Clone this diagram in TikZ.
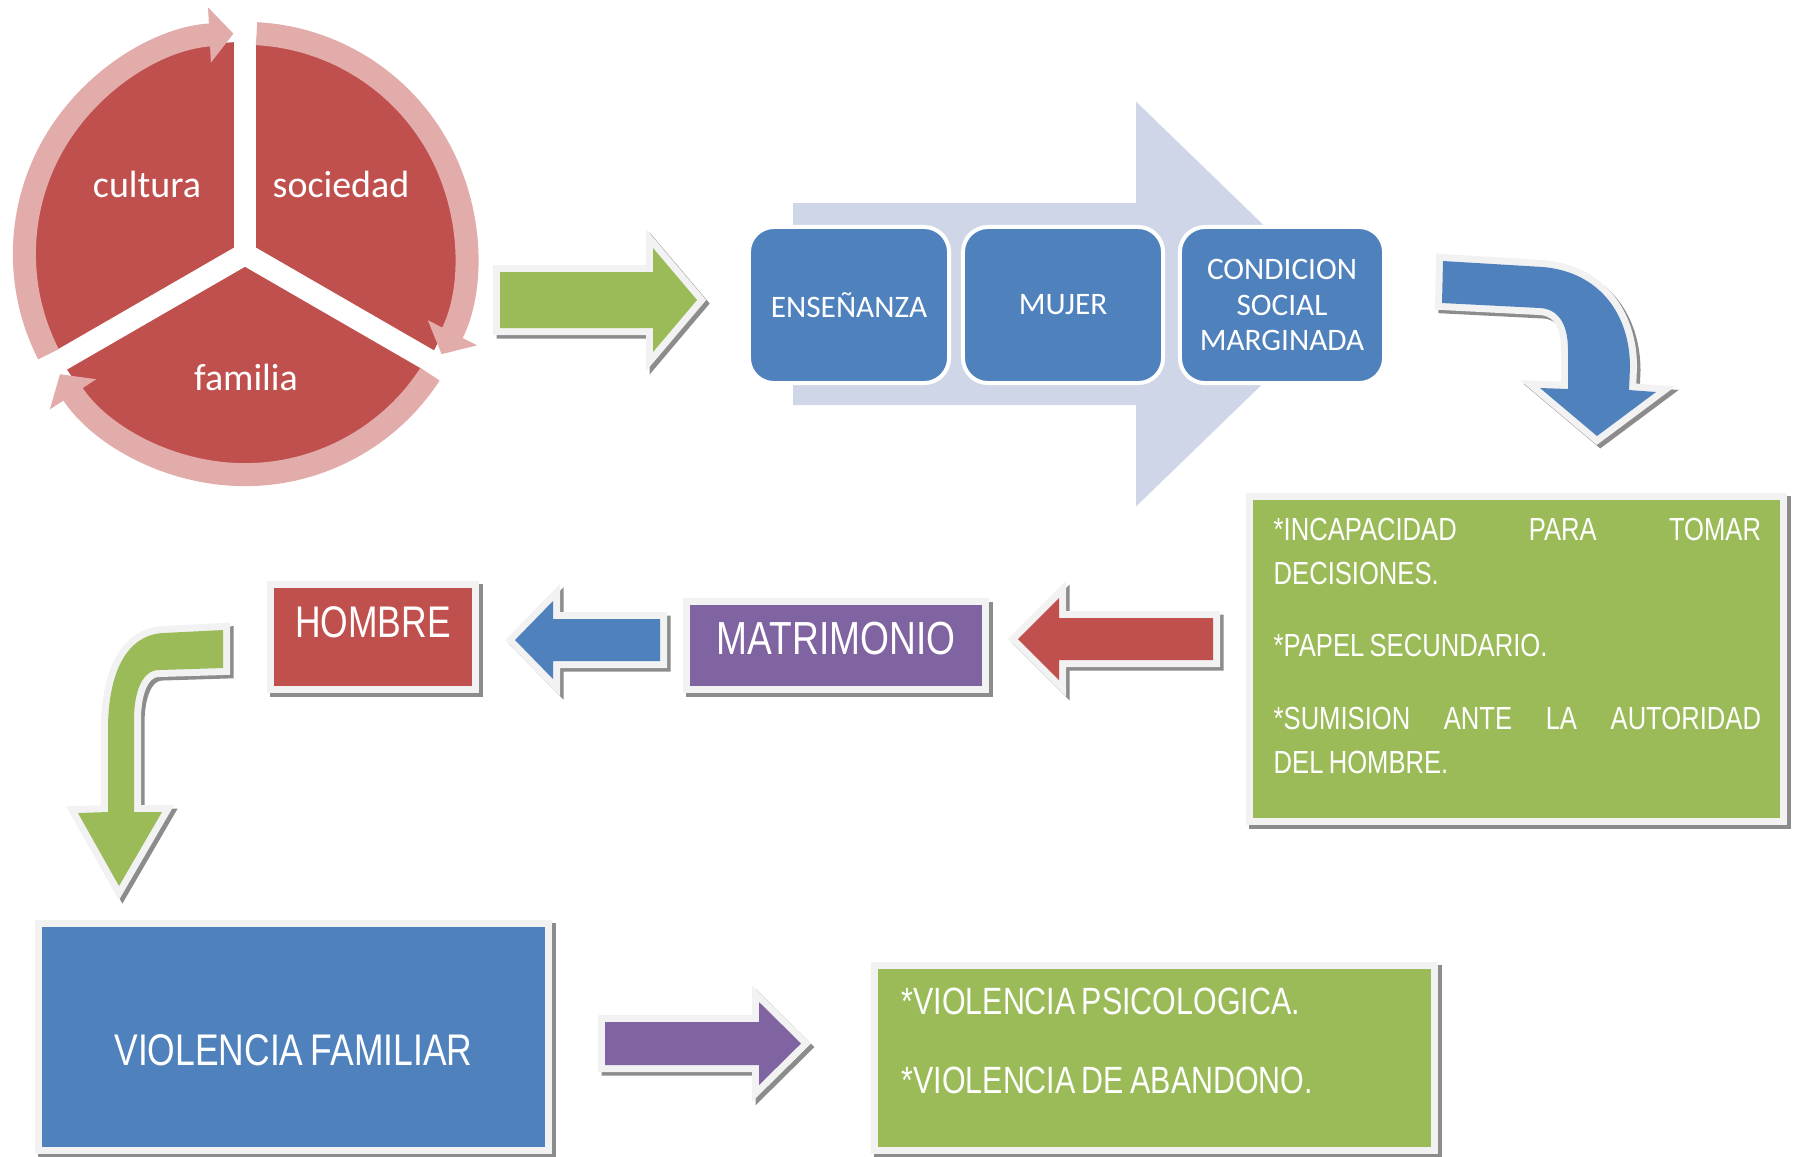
\documentclass[tikz,border=0pt]{standalone}
\usepackage{fontspec}
\setmainfont{Carlito}
\newfontfamily\estrecha[FakeStretch=0.8,WordSpace=0.75]{Liberation Sans}
\usetikzlibrary{arrows.meta}
\definecolor{azul}{HTML}{4F81BD}
\definecolor{rojo}{HTML}{C0504D}
\definecolor{verde}{HTML}{9BBB59}
\definecolor{morado}{HTML}{8064A2}
\definecolor{rosa}{HTML}{E2ACAB}
\definecolor{celeste}{HTML}{CED6E8}
\definecolor{gborde}{HTML}{F2F2F2}
\definecolor{sombra}{HTML}{8C8C8C}
\newcommand{\flechabloque}[7]{%
	\fill[#1] (#2,#5+#6) -- (#3,#5+#6) -- (#3,#5+#7) -- (#4,#5) -- (#3,#5-#7) -- (#3,#5-#6) -- (#2,#5-#6) -- cycle;}
\begin{document}
\begin{tikzpicture}[x=0.01cm,y=0.01cm,
	marco/.style={preaction={draw=sombra,line width=0.14cm,transform canvas={xshift=0.035cm,yshift=-0.035cm}},
		preaction={draw=gborde,line width=0.14cm}},
	caja/.style={marco,rectangle,inner sep=0pt,text=white},
	etapa/.style={rectangle,rounded corners=0.25cm,fill=azul,draw=white,line width=0.04cm,
		minimum width=2cm,minimum height=1.56cm,inner sep=0pt,text=white,align=center,
		font=\fontsize{8.9}{10}\selectfont},
	anillo/.style={rosa,line width=0.23cm,-{Triangle[width=0.54cm,length=0.24cm]}}]
	\useasboundingbox (0,0) rectangle (1794,-1156);
	
	\coordinate (centro) at (245,-254);
	\fill[rojo] (centro) circle[radius=2.12cm];
	\foreach \a in {90,210,330}
		\draw[white,line width=0.22cm] (centro) -- ++(\a:2.15cm);
	\foreach \a in {207,87,-33}
		\draw[anillo] ([shift={(\a:2.205cm)}]centro) arc[start angle=\a,delta angle=-114,radius=2.205cm];
	\begin{scope}[every node/.style={anchor=base,text=white,font=\fontsize{10.8}{13}\selectfont}]
	\node (cultura) at (147,-197) {cultura};
	\node (sociedad) at (341,-197) {sociedad};
	\node (familia) at (246,-390) {familia};
	\end{scope}
	
	\flechabloque{marco,verde}{500}{653}{697}{-300}{28}{52}
	\flechabloque{celeste}{793}{1136}{1345}{-304}{101}{202.5}
	\node[etapa] (ensenanza) at (849,-305) {ENSEÑANZA};
	\node[etapa] (mujer) at (1063,-305) {MUJER};
	\node[etapa,minimum width=2.04cm] (condicion) at (1282,-305) {CONDICION\\SOCIAL\\MARGINADA};
	
	\fill[marco,azul] (1443,-261) -- (1543,-267) .. controls (1600,-272) and (1630,-315) .. (1630,-367)
		-- (1629,-390) -- (1656,-392) -- (1597,-436) -- (1540,-388) -- (1568,-389) -- (1568,-350)
		.. controls (1568,-322) and (1557,-309) .. (1540,-308) -- (1442,-303) -- cycle;
	
	\node[caja,fill=verde,minimum width=5.27cm,minimum height=3.18cm] (efectos) at (1516.5,-659) {};
	\node[anchor=north west,inner sep=0pt,text width=4.87cm,align=flush left,text=white,
		font=\estrecha\fontsize{9.1}{12.5}\selectfont] (efectostxt) at (1273,-517)
		{{}*INCAPACIDAD\hfill PARA\hfill TOMAR\\DECISIONES.\\[8.2pt]{}*PAPEL SECUNDARIO.\\[8.2pt]{}*SUMISION\hfill ANTE\hfill LA\hfill AUTORIDAD\\DEL HOMBRE.};
	
	\flechabloque{marco,rojo}{1213}{1059}{1018}{-639}{21}{41}
	\node[caja,fill=morado,minimum width=2.92cm,minimum height=0.81cm,text height=0.34cm,text depth=0.16cm,
		font=\estrecha\fontsize{13.2}{15}\selectfont] (matrimonio) at (836,-645.5) {MATRIMONIO};
	\flechabloque{marco,azul}{660}{553}{515}{-640}{21}{39}
	\node[caja,fill=rojo,minimum width=1.98cm,minimum height=0.98cm,text height=0.3cm,text depth=0.3cm,
		font=\estrecha\fontsize{12.6}{14}\selectfont] (hombre) at (373,-637) {HOMBRE};
	
	\fill[marco,verde] (223,-630) -- (163,-633) .. controls (128,-635) and (108,-670) .. (108,-730)
		-- (108,-812) -- (78,-813) -- (119,-886) -- (162,-812) -- (134,-812) -- (134,-720)
		.. controls (134,-690) and (143,-670) .. (159,-670) -- (223,-668) -- cycle;
	
	\node[caja,fill=azul,minimum width=5.03cm,minimum height=2.2cm,text height=0.56cm,text depth=0cm,
		font=\estrecha\fontsize{12.6}{14}\selectfont] (violencia) at (293.5,-1037) {VIOLENCIA FAMILIAR};
	\flechabloque{marco,morado}{605}{759}{801}{-1043.5}{21.5}{41.5}
	\node[caja,fill=verde,minimum width=5.53cm,minimum height=1.78cm] (tipos) at (1154.5,-1058) {};
	\node[anchor=north west,inner sep=0pt,align=left,text=white,
		font=\estrecha\fontsize{10.8}{22.5}\selectfont] (tipostxt) at (901,-987)
		{{}*VIOLENCIA PSICOLOGICA.\\{}*VIOLENCIA DE ABANDONO.};
\end{tikzpicture}
\end{document}
